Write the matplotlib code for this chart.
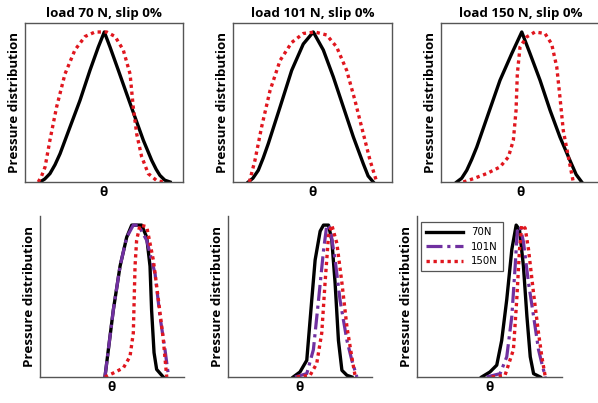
from __future__ import annotations

import matplotlib

matplotlib.use("Agg")
import matplotlib.pyplot as plt


FIG_W, FIG_H = 598, 403
OUTPUT_FILE = "out.png"

BLACK = "#000000"
PURPLE = "#7030A0"
RED = "#E0161E"
SPINE = "#555555"

TITLES = ["load 70 N, slip 0%", "load 101 N, slip 0%", "load 150 N, slip 0%"]
LEGEND_LABELS = ["70N", "101N", "150N"]

# values: theta in % of panel width, pressure normalised to peak
# top row, 70 N
T70_BLACK_X = [9.5, 12.5, 15.8, 19.0, 22.2, 28.5, 34.8, 41.1, 46.4, 50.2, 53.8, 59.1, 64.3, 69.6, 74.9, 80.2, 83.0, 85.4, 88.5, 91.8]
T70_BLACK_Y = [0, 0.02, 0.056, 0.115, 0.189, 0.367, 0.544, 0.744, 0.9, 1.0, 0.9, 0.744, 0.589, 0.433, 0.278, 0.144, 0.085, 0.044, 0.012, 0]
T70_RED_X = [8.4, 10.5, 12.7, 15.8, 20.0, 25.3, 31.6, 38.0, 44.3, 51.7, 57.0, 62.2, 66.5, 68.5, 70.7, 73.8, 78.0, 83.3, 87.5]
T70_RED_Y = [0, 0.04, 0.1, 0.28, 0.5, 0.72, 0.88, 0.97, 1.0, 1.0, 0.97, 0.88, 0.72, 0.5, 0.32, 0.17, 0.056, 0.01, 0]

# top row, 101 N
T101_BLACK_X = [9.6, 12.5, 15.9, 19.0, 22.2, 29.6, 36.9, 44.2, 50.5, 56.8, 63.1, 69.4, 75.7, 82.0, 85.0, 88.2]
T101_BLACK_Y = [0, 0.025, 0.078, 0.16, 0.256, 0.5, 0.744, 0.92, 1.0, 0.88, 0.7, 0.5, 0.3, 0.12, 0.04, 0]
T101_RED_X = [10.3, 13.8, 18.0, 23.3, 29.6, 36.9, 44.2, 51.6, 58.9, 65.2, 71.5, 76.7, 82.0, 86.2, 90.4]
T101_RED_Y = [0, 0.144, 0.367, 0.61, 0.81, 0.93, 0.99, 1.0, 0.98, 0.9, 0.744, 0.544, 0.32, 0.144, 0.0]

# top row, 150 N
T150_BLACK_X = [9.9, 13.0, 16.2, 19.3, 22.5, 29.8, 37.1, 44.5, 50.8, 56.0, 62.3, 68.6, 74.8, 81.1, 85.0, 88.5]
T150_BLACK_Y = [0, 0.025, 0.078, 0.15, 0.233, 0.456, 0.678, 0.856, 1.0, 0.856, 0.678, 0.478, 0.3, 0.144, 0.05, 0]
T150_RED_X = [14.0, 20.3, 28.7, 37.1, 42.4, 45.5, 47.2, 48.0, 49.7, 53.9, 59.1, 65.4, 69.6, 72.8, 74.8, 76.9, 80.1, 83.2]
T150_RED_Y = [0, 0.022, 0.056, 0.1, 0.167, 0.278, 0.478, 0.72, 0.9, 0.967, 1.0, 0.99, 0.92, 0.767, 0.567, 0.344, 0.167, 0]

# bottom row, panel 1
B1_BLACK_X = [45.1, 50.9, 55.6, 60.2, 63.7, 70.6, 74.1, 76.4, 77.5, 79.2, 81.0, 85.6]
B1_BLACK_Y = [0, 0.44, 0.73, 0.92, 1.0, 1.0, 0.92, 0.73, 0.44, 0.16, 0.05, 0]
B1_PURPLE_X = [45.1, 50.9, 55.6, 60.2, 64.8, 68.3, 74.1, 79.9, 83.3, 86.8, 89.1]
B1_PURPLE_Y = [0, 0.44, 0.73, 0.92, 1.0, 1.0, 0.9, 0.68, 0.4, 0.18, 0.015]
B1_RED_X = [45.1, 50.9, 57.9, 62.5, 64.8, 66.0, 67.1, 69.4, 74.1, 78.7, 82.2, 85.6, 88.0]
B1_RED_Y = [0, 0.026, 0.06, 0.135, 0.29, 0.73, 0.9, 1.0, 0.99, 0.77, 0.51, 0.25, 0]

# bottom row, panel 2
B2_BLACK_X = [45.3, 50.0, 54.7, 58.1, 60.5, 64.0, 66.3, 69.8, 72.1, 74.4, 76.7, 79.1, 82.6, 86.0]
B2_BLACK_Y = [0, 0.033, 0.11, 0.5, 0.77, 0.96, 1.0, 1.0, 0.9, 0.615, 0.24, 0.044, 0.011, 0]
B2_PURPLE_X = [46.5, 54.7, 59.3, 62.8, 66.3, 68.6, 70.9, 74.4, 77.9, 82.6, 86.0, 89.5]
B2_PURPLE_Y = [0, 0.022, 0.18, 0.5, 0.83, 1.0, 0.98, 0.77, 0.5, 0.24, 0.11, 0]
B2_RED_X = [47.7, 57.0, 61.6, 65.1, 67.4, 69.8, 72.1, 75.6, 79.1, 82.6, 86.0, 88.4]
B2_RED_Y = [0, 0.011, 0.088, 0.29, 0.62, 0.93, 1.0, 0.88, 0.62, 0.33, 0.13, 0]

# bottom row, panel 3
B3_BLACK_X = [44.6, 50.3, 55.0, 58.4, 61.9, 65.4, 68.4, 70.7, 73.4, 75.8, 78.1, 80.4, 85.0]
B3_BLACK_Y = [0, 0.033, 0.078, 0.24, 0.51, 0.84, 1.0, 0.97, 0.73, 0.4, 0.133, 0.022, 0]
B3_PURPLE_X = [48.0, 57.3, 61.9, 65.4, 67.7, 69.3, 71.1, 73.4, 76.9, 80.4, 83.8, 86.1, 88.5]
B3_PURPLE_Y = [0, 0.022, 0.133, 0.4, 0.73, 0.98, 0.99, 0.89, 0.62, 0.4, 0.18, 0.089, 0]
B3_RED_X = [51.5, 60.7, 66.5, 68.8, 70.7, 72.3, 74.6, 76.9, 80.4, 83.8, 86.1, 88.5]
B3_RED_Y = [0, 0.011, 0.18, 0.51, 0.84, 1.0, 0.98, 0.84, 0.55, 0.29, 0.133, 0]

# axes boxes in pixels: left, top, right, bottom
TOP_BOXES = [(25, 23, 183, 182), (233, 23, 392, 182), (441, 23, 600, 182)]
BOTTOM_BOXES = [(40, 216, 184, 377), (228, 216, 372, 377), (417, 216, 562, 377)]

STYLES = {
    "black": dict(color=BLACK, linestyle="-", linewidth=2.4),
    "purple": dict(color=PURPLE, linestyle=(0, (5, 1.5, 1, 1.5)), linewidth=2.3),
    "red": dict(color=RED, linestyle=(0, (1, 1.1)), linewidth=2.4),
}

LABEL_FONT = dict(family="Open Sans", fontweight="bold", fontsize=9.6)


def add_axes_px(fig, box):
    left, top, right, bottom = box
    return fig.add_axes(
        [left / FIG_W, 1 - bottom / FIG_H, (right - left) / FIG_W, (bottom - top) / FIG_H]
    )


def style_axes(ax, full_frame: bool) -> None:
    ax.set_xlim(0, 100)
    ax.set_ylim(0, 1.06)
    ax.set_xticks([])
    ax.set_yticks([])
    for name, spine in ax.spines.items():
        spine.set_color(SPINE)
        spine.set_linewidth(1.0)
        if not full_frame and name in ("top", "right"):
            spine.set_visible(False)
    ax.set_xlabel("θ", labelpad=3, **LABEL_FONT)
    ax.set_ylabel("Pressure distribution", labelpad=3, **LABEL_FONT)


def main() -> None:
    fig = plt.figure(figsize=(FIG_W / 100, FIG_H / 100), dpi=100)

    top_series = [
        [(T70_BLACK_X, T70_BLACK_Y, "black"), (T70_RED_X, T70_RED_Y, "red")],
        [(T101_BLACK_X, T101_BLACK_Y, "black"), (T101_RED_X, T101_RED_Y, "red")],
        [(T150_BLACK_X, T150_BLACK_Y, "black"), (T150_RED_X, T150_RED_Y, "red")],
    ]
    bottom_series = [
        [(B1_BLACK_X, B1_BLACK_Y, "black"), (B1_PURPLE_X, B1_PURPLE_Y, "purple"), (B1_RED_X, B1_RED_Y, "red")],
        [(B2_BLACK_X, B2_BLACK_Y, "black"), (B2_PURPLE_X, B2_PURPLE_Y, "purple"), (B2_RED_X, B2_RED_Y, "red")],
        [(B3_BLACK_X, B3_BLACK_Y, "black"), (B3_PURPLE_X, B3_PURPLE_Y, "purple"), (B3_RED_X, B3_RED_Y, "red")],
    ]

    for box, title, series in zip(TOP_BOXES, TITLES, top_series):
        ax = add_axes_px(fig, box)
        for xs, ys, key in series:
            ax.plot(xs, ys, **STYLES[key])
        style_axes(ax, full_frame=True)
        ax.set_title(title, pad=4, **LABEL_FONT)

    last_ax = None
    for box, series in zip(BOTTOM_BOXES, bottom_series):
        ax = add_axes_px(fig, box)
        for (xs, ys, key), label in zip(series, LEGEND_LABELS):
            ax.plot(xs, ys, label=label, **STYLES[key])
        style_axes(ax, full_frame=False)
        last_ax = ax

    legend = last_ax.legend(
        loc="upper left",
        bbox_to_anchor=(421 / FIG_W, 1 - 222 / FIG_H),
        bbox_transform=fig.transFigure,
        fontsize=7.3,
        handlelength=3.6,
        handletextpad=0.8,
        borderpad=0.5,
        labelspacing=0.45,
        fancybox=False,
        framealpha=1,
        borderaxespad=0,
    )
    legend.get_frame().set_edgecolor("#555555")
    legend.get_frame().set_linewidth(0.9)

    fig.savefig(OUTPUT_FILE, dpi=100)
    plt.close(fig)


if __name__ == "__main__":
    main()
